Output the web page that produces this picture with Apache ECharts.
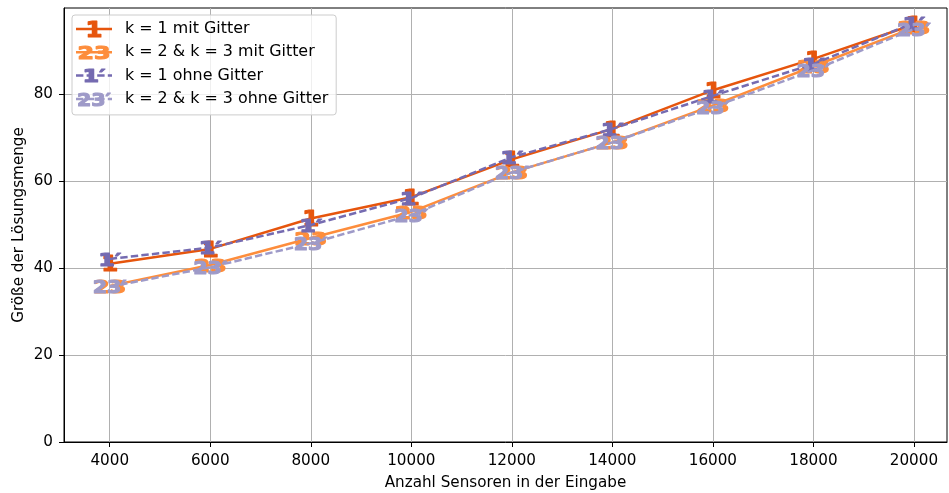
<!DOCTYPE html>
<html><head><meta charset="utf-8">
<script src="https://cdn.jsdelivr.net/npm/echarts@6/dist/echarts.min.js"></script>
<style>html,body{margin:0;padding:0;background:#fff}#c{width:949px;height:493px}</style>
</head><body><div id="c"></div>
<script>
// ---- data ----
const sensors = [4000, 6000, 8000, 10000, 12000, 14000, 16000, 18000, 20000];
const k1Mit   = [41.0, 44.4, 51.4, 56.3, 65.0, 72.0, 80.9, 88.1, 96.0];
const k23Mit  = [35.9, 40.7, 46.9, 52.9, 62.0, 68.9, 77.4, 86.4, 95.3];
const k1Ohne  = [42.1, 44.7, 49.9, 56.1, 65.5, 72.0, 79.6, 86.9, 96.4];
const k23Ohne = [35.7, 40.2, 45.7, 52.2, 62.0, 68.9, 77.0, 85.5, 95.0];
const xTicks = [4000, 6000, 8000, 10000, 12000, 14000, 16000, 18000, 20000];
const yTicks = [0, 20, 40, 60, 80];
const seriesNames = ['k = 1 mit Gitter', 'k = 2 & k = 3 mit Gitter', 'k = 1 ohne Gitter', 'k = 2 & k = 3 ohne Gitter'];
const markerTexts = ['1', '23', '1\u2032', '23\u2032'];

// ---- styles ----
const FONT = 'DejaVu Sans';
const colors = ['#e6550d', '#fd8d3c', '#756bb1', '#9e9ac8'];
const dashes = [null, null, [7.4, 3.2], [7.4, 3.2]];
const glyphs = [
  {fs: 21, tl: 17},
  {fs: 18.5, tl: 33},
  {fs: 18.5, tl: 23},
  {fs: 18.5, tl: 34}
];
const valuesList = [k1Mit, k23Mit, k1Ohne, k23Ohne];

function glyphSvg(i, w, h, cx, lineLen) {
  const g = glyphs[i], color = colors[i];
  const base = h / 2 + 0.729 * g.fs / 2;
  let s = '<svg xmlns="http://www.w3.org/2000/svg" width="' + w + '" height="' + h + '" viewBox="0 0 ' + w + ' ' + h + '">';
  if (lineLen) {
    s += '<line x1="0" y1="' + (h / 2) + '" x2="' + lineLen + '" y2="' + (h / 2) + '" stroke="' + color + '" stroke-width="2.5"' +
      (dashes[i] ? ' stroke-dasharray="' + dashes[i].join(',') + '"' : '') + '/>';
  }
  s += '<text x="' + cx + '" y="' + base + '" text-anchor="middle" font-family="DejaVu Sans" font-weight="bold" font-size="' + g.fs +
    '" fill="' + color + '" stroke="' + color + '" stroke-width="1.1" stroke-linejoin="round" textLength="' + g.tl +
    '" lengthAdjust="spacingAndGlyphs">' + markerTexts[i] + '</text></svg>';
  return 'image://data:image/svg+xml;charset=utf-8,' + encodeURIComponent(s);
}

const SW = 46, SH = 26;
const series = valuesList.map((vals, i) => ({
  type: 'line',
  name: seriesNames[i],
  data: sensors.map((x, j) => [x, vals[j]]),
  symbol: glyphSvg(i, SW, SH, SW / 2, 0),
  symbolSize: [SW, SH],
  showSymbol: true,
  clip: false,
  lineStyle: {color: colors[i], width: 2.5, type: dashes[i] || 'solid', cap: 'butt'},
  itemStyle: {color: colors[i]},
  emphasis: {disabled: true},
  z: 2 + i
}));

const axisText = {fontFamily: FONT, fontSize: 15.2, color: '#000'};
const chart = echarts.init(document.getElementById('c'), null, {renderer: 'canvas'});
chart.setOption({
  animation: false,
  backgroundColor: '#fff',
  grid: {left: 64, right: 2, top: 8, bottom: 51, containLabel: false, outerBoundsMode: 'none',
         show: true, borderColor: '#000', borderWidth: 1, backgroundColor: 'transparent'},
  legend: {
    orient: 'vertical', left: 72, top: 15,
    padding: [4, 8, 6, 4],
    itemWidth: 44, itemHeight: 20, itemGap: 3.3,
    backgroundColor: 'rgba(255,255,255,0.8)', borderColor: '#cccccc', borderWidth: 1, borderRadius: 3,
    selectedMode: false,
    textStyle: {fontFamily: FONT, fontSize: 15.9, color: '#000'},
    data: seriesNames.map((n, i) => ({name: n, icon: glyphSvg(i, 44, 20, 18, 36)}))
  },
  xAxis: {
    type: 'value', min: 3090, max: 20658,
    name: 'Anzahl Sensoren in der Eingabe', nameLocation: 'middle', nameGap: 34, nameMoveOverlap: false,
    nameTextStyle: axisText,
    axisLine: {show: true, onZero: false, lineStyle: {color: '#000', width: 1}},
    axisTick: {show: true, length: 5, customValues: xTicks, lineStyle: {color: '#000', width: 1}},
    axisLabel: {customValues: xTicks, margin: 12, formatter: v => String(v), ...axisText},
    splitLine: {show: true, lineStyle: {color: '#b0b0b0', width: 1}}
  },
  yAxis: {
    type: 'value', min: 0, max: 99.8,
    name: 'Größe der Lösungsmenge', nameLocation: 'middle', nameGap: 37, nameMoveOverlap: false,
    nameTextStyle: axisText,
    axisLine: {show: true, onZero: false, lineStyle: {color: '#000', width: 1}},
    axisTick: {show: true, length: 5, customValues: yTicks, lineStyle: {color: '#000', width: 1}},
    axisLabel: {customValues: yTicks, margin: 11, formatter: v => String(v), ...axisText},
    splitLine: {show: true, lineStyle: {color: '#b0b0b0', width: 1}}
  },
  series: series
});
</script>
</body></html>
